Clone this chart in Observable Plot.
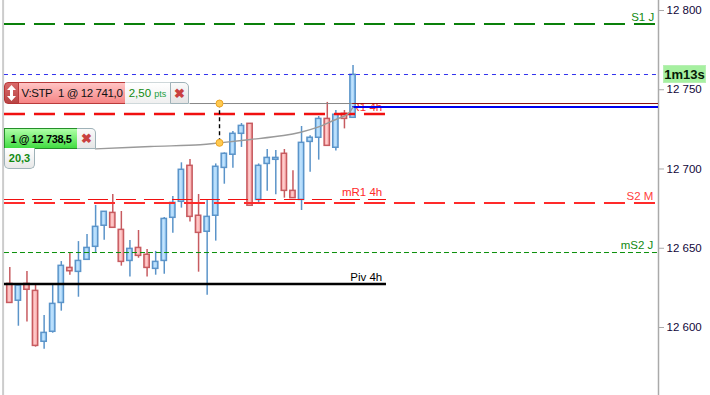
<!DOCTYPE html>
<html><head><meta charset="utf-8">
<script src="https://cdn.jsdelivr.net/npm/d3@7"></script>
<script src="https://cdn.jsdelivr.net/npm/@observablehq/plot@0.6"></script>
<style>
html,body{margin:0;padding:0;background:#fff;overflow:hidden}
#wrap{position:relative;width:710px;height:395px;font-family:"Liberation Sans",Arial,sans-serif}
#wrap svg{display:block;position:absolute;left:0;top:0;background:#fff}
.w{position:absolute;box-sizing:border-box;white-space:nowrap;display:flex;align-items:center;justify-content:center}
.w svg{position:static!important;background:none!important}
</style></head><body><div id="wrap"></div>
<script>
const highs =[12637.9,12627.5,12635.3,12627.5,12607.5,12626.5,12641.6,12646.9,12654.2,12658.7,12677,12673,12683.9,12673.2,12654.9,12661.2,12649.2,12648,12669.4,12682.6,12703.9,12706,12683.9,12680.5,12703.2,12710.2,12723.7,12728.7,12728.5,12703.2,12712.3,12711.7,12712.3,12698.9,12726.8,12720.9,12733.1,12742,12736.9,12736.9,12765.3];
const tops  =[12627.5,12626.5,12627.5,12623.1,12596.6,12614.9,12638.9,12637.6,12642,12650.2,12663.5,12673,12672.3,12661.6,12649.6,12650.2,12645.9,12641.4,12668.5,12678.6,12699.5,12702,12670.5,12669.8,12701.4,12709.6,12722.2,12727.2,12728.5,12702,12707,12707,12709.6,12686.2,12716.5,12719.7,12731.6,12731.6,12734.2,12734.8,12759.4];
const bottoms=[12615.5,12616.9,12623.8,12588.4,12591,12597.3,12615.5,12635.5,12635.1,12642.7,12650.9,12664.2,12662.9,12641.4,12642,12645.2,12637.6,12637,12642,12669.2,12679.3,12669.8,12659.7,12660.4,12670.5,12700.7,12709,12722.2,12676.8,12680.5,12703.2,12705.8,12686.2,12681.6,12680.5,12717.1,12719.7,12714.6,12713.4,12731.6,12732.3];
const lows  =[12615.5,12600.8,12603.4,12587.6,12586.3,12596.4,12610.3,12633,12619.1,12642.7,12647.1,12655.1,12662.9,12638.7,12631.8,12643.7,12631.8,12633,12633.6,12659.5,12675.3,12666.5,12634.9,12620.4,12654.5,12690.4,12700.5,12713.6,12676.8,12678.2,12686,12683.7,12681.6,12681.6,12673.8,12698,12705.6,12714.6,12711.3,12725.3,12732.3];
const directions=["d","u","d","d","u","u","u","d","u","u","u","u","d","d","u","d","d","u","u","u","u","d","d","u","u","u","u","u","d","u","u","u","d","d","u","u","u","d","u","d","u"];
const curveX=[9.99,16.4,22.2,24.44,28.05,31.9,33.9,35.9,37.7,39.4,40];
const curveY=[12712.7,12714.2,12715.3,12716.5,12718.6,12721.1,12723.2,12726.4,12730.6,12734.8,12739];
const tickValues=[12600,12650,12700,12750,12800];
const entry=12716.5, stop=12741.3, fill=12739.1, last=12759.6;

const candles=highs.map((h,i)=>({i,h,t:tops[i],b:bottoms[i],l:lows[i],up:directions[i]==="u"}));
const up=candles.filter(c=>c.up), dn=candles.filter(c=>!c.up);
const B="#5b94c9", R="#c75b60";
const grad=(id,a,b,c)=>`<linearGradient id="${id}"><stop offset="0" stop-color="${a}"/><stop offset=".45" stop-color="${b}"/><stop offset="1" stop-color="${c}"/></linearGradient>`;
const defs=()=>{const g=document.createElementNS("http://www.w3.org/2000/svg","defs");
 g.innerHTML=grad("gb","#8fc8f5","#c4e4fd","#8fc8f5")+grad("gr","#f59a9a","#ffcfcf","#f59a9a");return g;};
const lv=(v,x2,stroke,w,dash)=>Plot.ruleY([v],{x1:-0.62,x2,stroke,strokeWidth:w,strokeDasharray:dash});
const lb=(text,x,v,fill)=>Plot.text([text],{x:()=>x,y:()=>v,text:d=>d,textAnchor:"end",fill,fontSize:11.5,fontFamily:"Liberation Sans",letterSpacing:"-0.2px"});

const chart=Plot.plot({
 width:710,height:395,marginLeft:0,marginRight:52,marginTop:0,marginBottom:0,
 x:{type:"linear",domain:[-1.084,75.6],axis:null},
 y:{type:"linear",domain:[12557.1,12806.3],axis:null},
 style:{fontFamily:"Liberation Sans",background:"#fff",overflow:"visible"},
 marks:[
  defs,
  Plot.ruleX([-0.78],{stroke:"#ccc",strokeWidth:2}),
  Plot.ruleX([75.6],{stroke:"#aaa",strokeWidth:1.5}),
  Plot.axisY({anchor:"right",ticks:tickValues,tickSize:5,tickPadding:3,stroke:"#aaa",fill:"#12083a",fontSize:11.5,fontFamily:"Liberation Sans",
    tickFormat:d=>{const s=String(d);return s.slice(0,2)+"\u00a0"+s.slice(2)}}),
  lb("S1 J",75.1,12795.6,"#118a11"),
  lb("S2 M",75,12682.8,"#ff4040"),
  lb("mS2 J",75,12651.7,"#118a11"),
  lb("mR1 4h",43.4,12685,"#ff2a2a"),
  lb("R1 4h",43.4,12738.6,"#ff2a2a"),
  lb("Piv 4h",43.4,12631.5,"#000"),
  Plot.ruleX(up,{x:"i",y1:"l",y2:"h",stroke:B,strokeWidth:1.5}),
  Plot.ruleX(dn,{x:"i",y1:"l",y2:"h",stroke:R,strokeWidth:1.5}),
  Plot.rect(up,{x1:d=>d.i-.31,x2:d=>d.i+.31,y1:"b",y2:"t",fill:"url(#gb)",stroke:B,strokeWidth:1.5}),
  Plot.rect(dn,{x1:d=>d.i-.31,x2:d=>d.i+.31,y1:"b",y2:"t",fill:"url(#gr)",stroke:R,strokeWidth:1.5}),
  lv(12791.5,75.25,"#0a800a",2,"21,9"),
  lv(last,75.5,"#3030ee",1,"4,4"),
  lv(12734.7,43.9,"#f01010",2.4,"21,9"),
  lv(12680.75,43.9,"#f01010",1,"20,8"),
  lv(12678.5,75.25,"#ff2a2a",2,"21,9"),
  lv(12647.3,75.5,"#0a900a",1,"5,3"),
  lv(12627.4,43.9,"#000",2.6),
  Plot.ruleY([stop],{x1:21,x2:39.95,stroke:"#888",strokeWidth:1}),
  Plot.ruleY([stop],{x1:39.95,x2:75.6,stroke:"#8a1010",strokeWidth:1}),
  Plot.ruleY([fill],{x1:39.95,x2:75.6,stroke:"#0000ee",strokeWidth:2}),
  Plot.line(curveX.map((x,k)=>({x,y:curveY[k]})),{x:"x",y:"y",stroke:"#9a9a9a",strokeWidth:1.4,curve:"catmull-rom"}),
  Plot.ruleX([24.44],{y1:entry,y2:stop,stroke:"#000",strokeWidth:1.4,strokeDasharray:"4,3"}),
  Plot.dot([stop,entry],{x:()=>24.44,y:d=>d,r:3.5,fill:"#ffca50",stroke:"#eda524",strokeWidth:1})
 ]
});
const wrap=document.getElementById("wrap");wrap.appendChild(chart);
function w(css,html){const d=document.createElement("div");d.className="w";d.style.cssText=css;d.innerHTML=html;wrap.appendChild(d);}
const box=(x,y,W,H)=>`left:${x}px;top:${y}px;width:${W}px;height:${H}px;`;
const grey="#9fb2b8";
w(box(4,82,15,22)+"background:linear-gradient(#d96a6a,#b84444);border:1px solid #b53535;border-radius:4px 0 0 4px","<svg width='9' height='16' viewBox='0 0 9 16'><path d='M4.5 0L9 5H6V11H9L4.5 16L0 11H3V5H0Z' fill='#fff'/></svg>");
w(box(18,82,108,22)+"background:linear-gradient(#ffc4c4,#f68585);border:1px solid #b93a3a;color:#111;font-size:11.5px;letter-spacing:-.4px","V:STP&nbsp; 1 @ 12 741,0");
w(box(125,82,46,22)+"background:linear-gradient(#fff,#f0f0f0);border:1px solid #cfd8da;border-left:none;color:#118a11;font-size:11.5px","2,50&nbsp;<span style='font-size:9px;color:#22a040;padding-top:2px'>pts</span>");
w(box(170,82,19,22)+`background:linear-gradient(#fafafa,#e4e4e4);border:1px solid ${grey};border-radius:0 5px 0 0;color:#c94040;font-size:13px;font-weight:bold`,"\u2716");
w(box(4,128,74,21)+"background:linear-gradient(#b0ffa8,#42dc42);border:1px solid #25902a;color:#000;font-size:11px;letter-spacing:-.4px;font-weight:bold","1 @ 12 738,5");
w(box(77,128,19,21)+`background:linear-gradient(#fafafa,#e6e6e6);border:1px solid ${grey};border-left:none;border-radius:0 5px 0 0;color:#c94040;font-size:13px;font-weight:bold`,"\u2716");
w(box(4,148,31,21)+`background:linear-gradient(#fff,#e8e8e8);border:1px solid ${grey};border-top:none;border-radius:0 0 5px 5px;color:#118a11;font-size:11px;font-weight:bold`,"20,3");
w(box(663,65,43,18)+"background:#a6f0a0;border:1px solid #b8f0b4;color:#061a06;font-size:13px;font-weight:bold","1m13s");
</script></body></html>
